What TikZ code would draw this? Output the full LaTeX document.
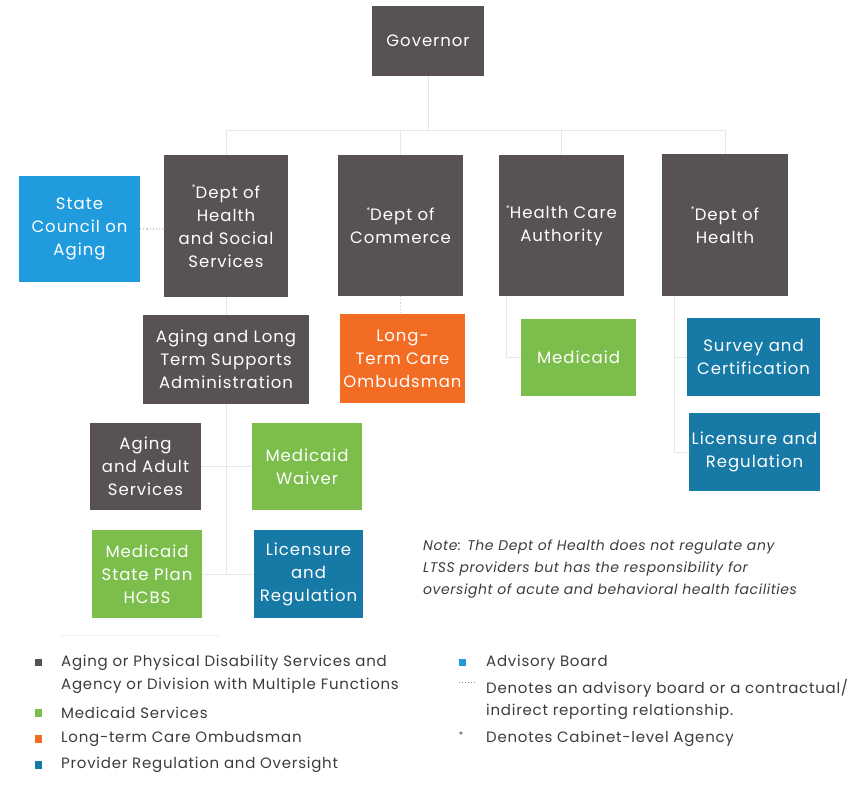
\documentclass[tikz,border=0pt]{standalone}
\usepackage{fontspec}
\setmainfont{Poppins}
\usetikzlibrary{backgrounds}
\definecolor{agency}{RGB}{88,83,82}
\definecolor{advisory}{RGB}{32,155,222}
\definecolor{ombuds}{RGB}{242,108,36}
\definecolor{medicaid}{RGB}{124,190,76}
\definecolor{provider}{RGB}{22,121,166}
\definecolor{linkgray}{RGB}{230,230,230}
\definecolor{legendtext}{RGB}{60,60,60}
\newcommand{\cab}{{\raisebox{0.45em}{\fontsize{8}{8}\selectfont*}}}
\begin{document}
\begin{tikzpicture}[x=1pt,y=-1pt,
  box/.style={rectangle, inner sep=0pt, align=center, text=white,
    font=\fontsize{16.5}{23}\selectfont\addfontfeatures{LetterSpace=6}},
  link/.style={draw=linkgray, line width=1pt},
  dotlink/.style={draw=linkgray!80!gray, line width=1.1pt, dotted},
  keysq/.style={rectangle, inner sep=0pt, minimum size=7.5pt},
  keytext/.style={anchor=west, inner sep=0pt, text=legendtext,
    font=\fontsize{15}{23}\selectfont\addfontfeatures{LetterSpace=5}},
]
\useasboundingbox (0,0) rectangle (867,788);

% top level
\node[box, fill=agency, minimum width=112pt, minimum height=70pt] (gov) at (428,41) {Governor};

% cabinet-level departments
\node[box, fill=agency, minimum width=124pt, minimum height=142pt] (dshs) at (226,226)
  {\cab Dept of\\Health\\and Social\\Services};
\node[box, fill=agency, minimum width=125pt, minimum height=141pt] (commerce) at (400.5,225.5)
  {\cab Dept of\\Commerce};
\node[box, fill=agency, minimum width=125pt, minimum height=141pt] (hca) at (561.5,225.5)
  {\cab Health Care\\Authority};
\node[box, fill=agency, minimum width=126pt, minimum height=142pt] (doh) at (725,225)
  {\cab Dept of\\Health};
\node[box, fill=advisory, minimum width=121pt, minimum height=106pt] (council) at (79.5,229)
  {State\\Council on\\Aging};

% second level
\node[box, fill=agency, minimum width=166pt, minimum height=89pt] (altsa) at (226,359.5)
  {Aging and Long\\Term Supports\\Administration};
\node[box, fill=ombuds, minimum width=125pt, minimum height=89pt] (ombud) at (402.5,358.5)
  {Long-\\Term Care\\Ombudsman};
\node[box, fill=medicaid, minimum width=115pt, minimum height=77pt] (mcd) at (578.5,357.5)
  {Medicaid};
\node[box, fill=provider, minimum width=133pt, minimum height=78pt] (survey) at (753.5,357)
  {Survey and\\Certification};
\node[box, fill=provider, minimum width=131pt, minimum height=78pt] (licR) at (754.5,452)
  {Licensure and\\Regulation};

% third level under ALTSA
\node[box, fill=agency, minimum width=111pt, minimum height=87pt] (aas) at (145.5,466.5)
  {Aging\\and Adult\\Services};
\node[box, fill=medicaid, minimum width=110pt, minimum height=87pt] (waiver) at (307,466.5)
  {Medicaid\\Waiver};
\node[box, fill=medicaid, minimum width=110pt, minimum height=88pt] (hcbs) at (147,574)
  {Medicaid\\State Plan\\HCBS};
\node[box, fill=provider, minimum width=109pt, minimum height=88pt] (licL) at (308.5,574)
  {Licensure\\and\\Regulation};

% connectors, behind the boxes
\begin{scope}[on background layer]
  \fill[white] (0,0) rectangle (867,788);
  \coordinate (bus) at (428,130);
  \draw[link] (gov.south) -- (bus);
  \draw[link] (dshs.north) -- (dshs.north |- bus) -| (doh.north);
  \draw[link] (commerce.north) -- (commerce.north |- bus);
  \draw[link] (hca.north) -- (hca.north |- bus);
  \draw[dotlink] (council.east) -- (council.east -| dshs.west);
  \draw[link] (dshs.south) -- (altsa.north);
  \draw[dotlink] (commerce.south) -- (commerce.south |- ombud.north);
  \coordinate (hcastem) at ([xshift=-55pt]hca.south);
  \draw[link] (hcastem) |- (mcd.west);
  \coordinate (dohstem) at ([xshift=-51pt]doh.south);
  \draw[link] (dohstem) |- (survey.west);
  \draw[link] (dohstem) |- (licR.west);
  \draw[link] (altsa.south) |- (aas.east);
  \draw[link] (altsa.south) |- (waiver.west);
  \draw[link] (altsa.south) |- (hcbs.east);
  \draw[link] (altsa.south) |- (licL.west);
\end{scope}

% note
\node[anchor=north west, inner sep=0pt, align=left, text=legendtext,
  font=\fontsize{14}{22}\itshape\selectfont\addfontfeatures{LetterSpace=4}] (note) at (423,540)
  {Note: The Dept of Health does not regulate any\\
   LTSS providers but has the responsibility for\\
   oversight of acute and behavioral health facilities};

% legend
\coordinate (sepA) at (60,635);
\coordinate (sepB) at (220,635);
\draw[draw=linkgray!60, line width=0.8pt] (sepA) -- (sepB);

\node[keysq, fill=agency] (k1) at (38.5,662.5) {};
\node[keytext] (t1) at (61,662.5) {Aging or Physical Disability Services and};
\node[keytext] (t1b) at (61,686) {Agency or Division with Multiple Functions};
\node[keysq, fill=medicaid] (k2) at (38.5,713) {};
\node[keytext] (t2) at (61,713) {Medicaid Services};
\node[keysq, fill=ombuds] (k3) at (38.5,739) {};
\node[keytext] (t3) at (61,739) {Long-term Care Ombudsman};
\node[keysq, fill=provider] (k4) at (38.5,765) {};
\node[keytext] (t4) at (61,765) {Provider Regulation and Oversight};

\node[keysq, fill=advisory] (k5) at (462.5,662.5) {};
\node[keytext] (t5) at (486,662.5) {Advisory Board};
\coordinate (dotA) at (459,682);
\coordinate (dotB) at (475,682);
\draw[legendtext!60, line width=1pt, dotted] (dotA) -- (dotB);
\node[keytext] (t6) at (486,688) {Denotes an advisory board or a contractual/};
\node[keytext] (t6b) at (486,712) {indirect reporting relationship.};
\node[anchor=center, inner sep=0pt, text=legendtext, font=\fontsize{9}{9}\selectfont] (k7) at (461,735) {*};
\node[keytext] (t7) at (486,738.5) {Denotes Cabinet-level Agency};
\end{tikzpicture}
\end{document}
